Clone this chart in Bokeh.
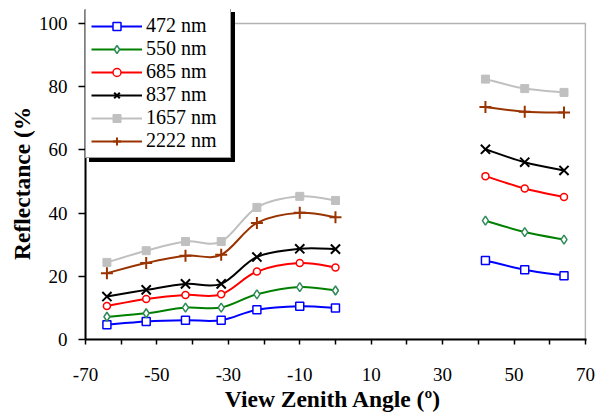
from bokeh.plotting import figure
from bokeh.models import Range1d, FixedTicker, Legend, LegendItem, BoxAnnotation
from bokeh.embed import file_html
from bokeh.resources import INLINE

# ---- data ----
angles_left = [-64, -53, -42, -32, -22, -10, 0]
angles_right = [42, 53, 64]

labels = ["472 nm", "550 nm", "685 nm", "837 nm", "1657 nm", "2222 nm"]
left_vals = [
    [4.7, 5.7, 6.1, 6.1, 9.4, 10.5, 10.0],
    [7.2, 8.3, 10.1, 10.1, 14.3, 16.6, 15.5],
    [10.6, 12.8, 14.1, 14.3, 21.5, 24.2, 22.8],
    [13.6, 15.7, 17.6, 17.6, 26.1, 28.7, 28.6],
    [24.4, 28.1, 31.0, 31.0, 41.8, 45.3, 44.0],
    [21.0, 24.2, 26.5, 26.8, 36.9, 40.1, 38.7],
]
right_vals = [
    [25.0, 22.1, 20.2],
    [37.6, 34.0, 31.6],
    [51.7, 47.8, 45.1],
    [60.2, 56.1, 53.5],
    [82.4, 79.4, 78.2],
    [73.6, 72.1, 71.8],
]
x_ticks = [-70, -50, -30, -10, 10, 30, 50, 70]
x_minor = [-60, -40, -20, 0, 20, 40, 60]
y_ticks = [0, 20, 40, 60, 80, 100]
x_min, x_max = -70, 70
y_min, y_max = 0, 100

# ---- styles ----
line_colors = ["#0000ff", "#008000", "#ff0000", "#000000", "#c0c0c0", "#993300"]
marker_types = ["square", "diamond", "circle", "x", "square", "cross"]
marker_line = ["#0000ff", "#2e8b57", "#ff0000", "#000000", "#c0c0c0", "#993300"]
marker_fill = ["white", "white", "white", None, "#c0c0c0", None]
marker_size = [8, 9, 7, 13, 8, 12]
marker_lw = [1.5, 1.5, 1.5, 2, 1, 2]

FONT = "'Liberation Serif', 'Times New Roman', serif"

# frame extends a little above the value 100 so the legend (which overlaps
# the top edge of the plot box) is not clipped
y_top_pad = 1.0443
x_right_pad = 0.3

p = figure(width=607, height=414, output_backend="svg", toolbar_location=None,
           x_range=Range1d(x_min, x_max + x_right_pad),
           y_range=Range1d(y_min, y_max * y_top_pad),
           min_border_left=85, min_border_right=21, min_border_top=9,
           min_border_bottom=75)
p.grid.visible = False
p.outline_line_color = None
p.background_fill_color = "white"
p.border_fill_color = "white"

# visible plot box
p.add_layout(BoxAnnotation(left=x_min, right=x_max, bottom=y_min, top=y_max,
                           fill_alpha=0, line_color="black", line_width=1.5,
                           level="underlay"))

p.xaxis.ticker = FixedTicker(ticks=x_ticks, minor_ticks=x_minor)
p.yaxis.ticker = FixedTicker(ticks=y_ticks, minor_ticks=[])
p.xaxis.major_label_overrides = {t: str(t) for t in x_ticks}
for ax in (p.xaxis[0], p.yaxis[0]):
    ax.axis_line_width = 2
    ax.axis_line_color = "black"
    ax.major_tick_line_width = 1.5
    ax.minor_tick_line_width = 1.5
    ax.major_tick_in = 0
    ax.minor_tick_in = 0
    ax.major_label_text_font = FONT
    ax.major_label_text_font_size = "19px"
    ax.major_label_text_color = "black"
    ax.axis_label_text_font = FONT
    ax.axis_label_text_font_style = "bold"
    ax.axis_label_text_font_size = "23.5px"
    ax.axis_label_text_color = "black"
p.xaxis.major_tick_out = 5
p.xaxis.minor_tick_out = 5
p.yaxis.major_tick_out = 7
p.xaxis.major_label_standoff = 23
p.yaxis.major_label_standoff = 11
p.xaxis.axis_label = "View Zenith Angle  (º)"
p.yaxis.axis_label = "Reflectance (%\u00a0\u00a0\u00a0"
p.xaxis.axis_label_standoff = 2
p.yaxis.axis_label_standoff = 1


def bezier_parts(xs, ys):
    n = len(xs)
    out = {k: [] for k in ("x0", "y0", "x1", "y1", "cx0", "cy0", "cx1", "cy1")}
    for i in range(n - 1):
        im1 = max(i - 1, 0)
        ip2 = min(i + 2, n - 1)
        out["x0"].append(xs[i]); out["y0"].append(ys[i])
        out["x1"].append(xs[i + 1]); out["y1"].append(ys[i + 1])
        out["cx0"].append(xs[i] + (xs[i + 1] - xs[im1]) / 6.0)
        out["cy0"].append(ys[i] + (ys[i + 1] - ys[im1]) / 6.0)
        out["cx1"].append(xs[i + 1] - (xs[ip2] - xs[i]) / 6.0)
        out["cy1"].append(ys[i + 1] - (ys[ip2] - ys[i]) / 6.0)
    return out


nan = float("nan")
items = []
first_line = None
for k in range(len(labels)):
    for xs, ys in ((angles_left, left_vals[k]), (angles_right, right_vals[k])):
        p.bezier(line_color=line_colors[k], line_width=2, **bezier_parts(xs, ys))
    lr = p.line(x=[nan], y=[nan], line_color=line_colors[k], line_width=2)
    if first_line is None:
        first_line = lr
    sc = p.scatter(x=angles_left + angles_right, y=left_vals[k] + right_vals[k],
                   marker=marker_types[k], size=marker_size[k],
                   line_color=marker_line[k], line_width=marker_lw[k],
                   fill_color=marker_fill[k])
    items.append(LegendItem(label=labels[k], renderers=[lr, sc]))

leg_h = 148
leg_x, leg_y = 0, 330 - 1 - leg_h
common = dict(padding=5, spacing=0, glyph_height=20, glyph_width=51,
              label_standoff=4, label_width=79, margin=0,
              label_text_font=FONT, label_text_font_size="20px")
shadow = Legend(items=[LegendItem(label="\u00a0", renderers=[first_line])],
                location=(leg_x + 4, leg_y - 4),
                background_fill_color="black", background_fill_alpha=1,
                border_line_color="black", label_text_color="black",
                label_height=138, **common)
legend = Legend(items=items, location=(leg_x, leg_y),
                background_fill_color="white", background_fill_alpha=1,
                border_line_color="#404040", border_line_width=1,
                label_text_color="black", label_height=23, **common)
p.add_layout(shadow, "center")
p.add_layout(legend, "center")

open("out.html", "w").write(file_html(p, INLINE))
